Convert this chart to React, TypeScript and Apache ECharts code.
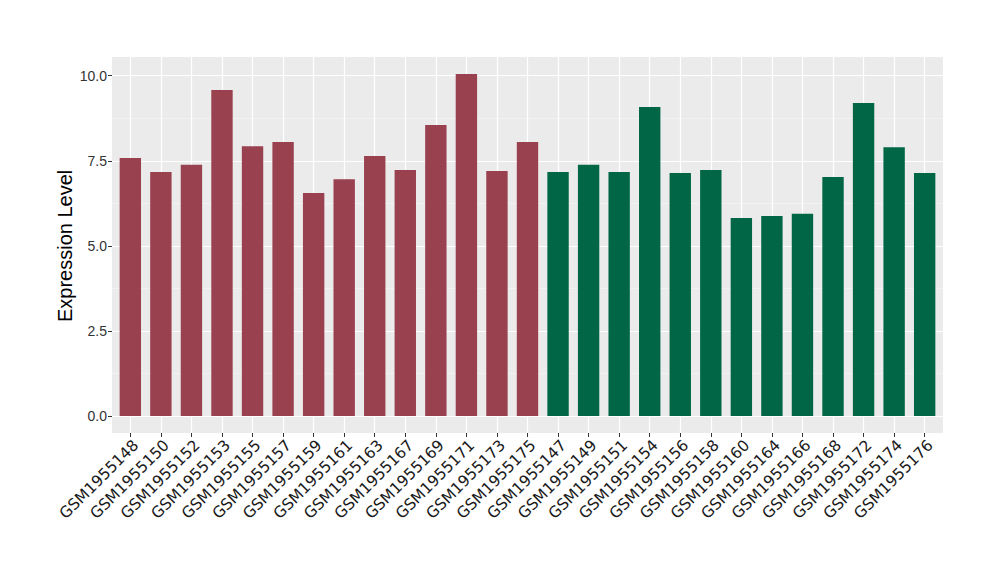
import React, { useEffect, useRef } from "react";
import * as echarts from "echarts";

const categories = [
  "GSM1955148", "GSM1955150", "GSM1955152", "GSM1955153", "GSM1955155", "GSM1955157",
  "GSM1955159", "GSM1955161", "GSM1955163", "GSM1955167", "GSM1955169", "GSM1955171",
  "GSM1955173", "GSM1955175", "GSM1955147", "GSM1955149", "GSM1955151", "GSM1955154",
  "GSM1955156", "GSM1955158", "GSM1955160", "GSM1955164", "GSM1955166", "GSM1955168",
  "GSM1955172", "GSM1955174", "GSM1955176",
];
const values = [
  7.58, 7.17, 7.38, 9.58, 7.93, 8.05, 6.55, 6.96, 7.64, 7.23, 8.55, 10.05, 7.2, 8.05,
  7.17, 7.38, 7.17, 9.08, 7.14, 7.23, 5.82, 5.88, 5.94, 7.02, 9.2, 7.9, 7.14,
];
const groups = [
  "A", "A", "A", "A", "A", "A", "A", "A", "A", "A", "A", "A", "A", "A",
  "B", "B", "B", "B", "B", "B", "B", "B", "B", "B", "B", "B", "B",
];
const groupColors: Record<string, string> = { A: "#9A4150", B: "#006646" };
const yTicks = [0, 2.5, 5, 7.5, 10];

export default function App() {
  const ref = useRef<HTMLDivElement>(null);
  useEffect(() => {
    if (!ref.current) return;
    const chart = echarts.init(ref.current, null, { renderer: "svg" });
    const panelL = 112, panelR = 943, panelT = 57, panelB = 433;
    const n = categories.length;
    const u = (panelR - panelL) / (n + 0.2);
    const y0 = 416, y10 = 75.7;
    chart.setOption({
      animation: false,
      backgroundColor: "#ffffff",
      grid: [
        { left: panelL, right: 1000 - panelR, top: panelT, bottom: 580 - panelB, show: true, backgroundColor: "#EBEBEB", borderWidth: 0 },
        { left: panelL, right: 1000 - panelR, top: y10, bottom: 580 - y0 },
        { left: panelL + 0.6 * u, right: 1000 - (panelL + (n - 0.4) * u), top: panelT, bottom: 580 - panelB },
        { left: panelL + 0.1 * u, right: 1000 - (panelL + (n + 0.1) * u), top: y10, bottom: 580 - y0 },
      ],
      xAxis: [
        { gridIndex: 0, type: "value", show: false },
        { gridIndex: 1, type: "value", show: false },
        {
          gridIndex: 2,
          type: "category",
          data: categories,
          boundaryGap: false,
          axisLine: { show: false },
          axisTick: { show: true, length: 4, lineStyle: { color: "#333333", width: 1 } },
          axisLabel: {
            interval: 0,
            rotate: 45,
            margin: 4,
            verticalAlign: "top",
            color: "#1A1A1A",
            fontSize: 15.5,
            fontFamily: "DejaVu Sans",
          },
          splitLine: { show: true, interval: 0, lineStyle: { color: "#ffffff", width: 1.2 } },
        },
        { gridIndex: 3, type: "category", data: categories, show: false },
      ],
      yAxis: [
        { gridIndex: 0, type: "value", show: false },
        {
          gridIndex: 1,
          type: "value",
          min: yTicks[0],
          max: yTicks[yTicks.length - 1],
          interval: 2.5,
          name: "Expression Level",
          nameLocation: "middle",
          nameGap: 37,
          nameMoveOverlap: false,
          nameTextStyle: { fontSize: 20, color: "#000000", fontFamily: "Liberation Sans" },
          axisLine: { show: false },
          axisTick: { show: true, length: 4, lineStyle: { color: "#333333", width: 1 } },
          axisLabel: {
            margin: 5,
            color: "#333333",
            fontSize: 14,
            fontFamily: "Liberation Sans",
            formatter: (v: number) => v.toFixed(1),
          },
          splitLine: { show: true, lineStyle: { color: "#ffffff", width: 1.2 } },
          minorTick: { show: false, splitNumber: 2 },
          minorSplitLine: { show: true, lineStyle: { color: "#F5F5F5", width: 0.7 } },
        },
        { gridIndex: 2, type: "value", show: false },
        { gridIndex: 3, type: "value", min: 0, max: 10, show: false },
      ],
      series: [
        {
          type: "bar",
          xAxisIndex: 3,
          yAxisIndex: 3,
          clip: false,
          barCategoryGap: "30%",
          data: values.map((v, i) => ({ value: v, itemStyle: { color: groupColors[groups[i]] } })),
        },
      ],
    });
    return () => chart.dispose();
  }, []);
  return <div ref={ref} style={{ width: 1000, height: 580, marginLeft: -8, marginTop: -8 }} />;
}
